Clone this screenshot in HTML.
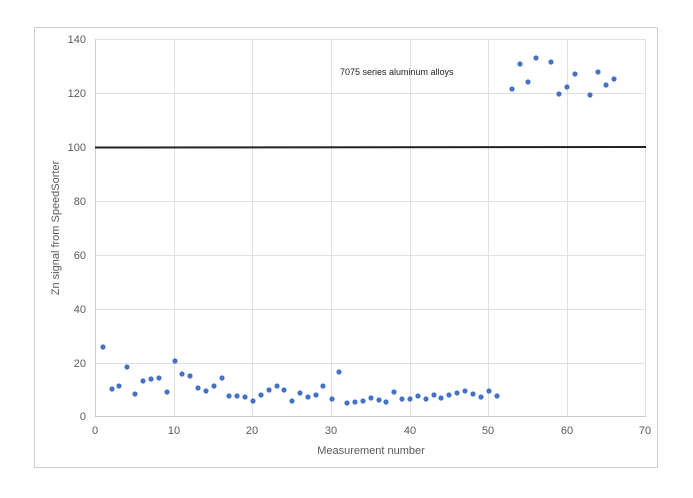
<!DOCTYPE html><html><head><style>body{margin:0;background:#fff}</style></head><body>
<svg width="693" height="493" xmlns="http://www.w3.org/2000/svg" font-family="Liberation Sans, sans-serif">
<rect x="34.5" y="27.5" width="623" height="440" fill="#fff" stroke="#d0d0d0"/>
<g stroke="#e0e0e0" stroke-width="1">
<line x1="95" y1="39.5" x2="646" y2="39.5"/><line x1="95" y1="93.5" x2="646" y2="93.5"/><line x1="95" y1="201.5" x2="646" y2="201.5"/><line x1="95" y1="255.5" x2="646" y2="255.5"/><line x1="95" y1="309.5" x2="646" y2="309.5"/><line x1="95" y1="363.5" x2="646" y2="363.5"/>
<line x1="174.5" y1="39" x2="174.5" y2="416"/><line x1="252.5" y1="39" x2="252.5" y2="416"/><line x1="331.5" y1="39" x2="331.5" y2="416"/><line x1="410.5" y1="39" x2="410.5" y2="416"/><line x1="488.5" y1="39" x2="488.5" y2="416"/><line x1="567.5" y1="39" x2="567.5" y2="416"/><line x1="645.5" y1="39" x2="645.5" y2="416"/>
</g>
<line x1="95.5" y1="39" x2="95.5" y2="417" stroke="#d0d0d0"/>
<line x1="95" y1="416.5" x2="646" y2="416.5" stroke="#c8c8c8"/>
<line x1="95" y1="147.5" x2="646" y2="147" stroke="#222" stroke-width="2"/>
<g font-size="11" fill="#595959" text-anchor="end">
<text x="86" y="43">140</text><text x="86" y="97">120</text><text x="86" y="151">100</text><text x="86" y="205">80</text><text x="86" y="259">60</text><text x="86" y="313">40</text><text x="86" y="367">20</text><text x="86" y="420">0</text>
</g>
<g font-size="11" fill="#595959" text-anchor="middle">
<text x="95" y="434">0</text><text x="174" y="434">10</text><text x="252" y="434">20</text><text x="331" y="434">30</text><text x="410" y="434">40</text><text x="488" y="434">50</text><text x="567" y="434">60</text><text x="645" y="434">70</text>
<text x="371" y="454">Measurement number</text>
<text transform="translate(59,228) rotate(-90)">Zn signal from SpeedSorter</text>
</g>
<text x="340" y="75" font-size="9" fill="#222">7075 series aluminum alloys</text>
<g fill="#4472c4">
<circle cx="103" cy="347" r="2.6"/><circle cx="112" cy="389" r="2.6"/><circle cx="119" cy="386" r="2.6"/><circle cx="127" cy="367" r="2.6"/><circle cx="135" cy="394" r="2.6"/><circle cx="143" cy="381" r="2.6"/><circle cx="151" cy="379" r="2.6"/><circle cx="159" cy="378" r="2.6"/><circle cx="167" cy="392" r="2.6"/><circle cx="175" cy="361" r="2.6"/><circle cx="182" cy="374" r="2.6"/><circle cx="190" cy="376" r="2.6"/><circle cx="198" cy="388" r="2.6"/><circle cx="206" cy="391" r="2.6"/><circle cx="214" cy="386" r="2.6"/><circle cx="222" cy="378" r="2.6"/><circle cx="229" cy="396" r="2.6"/><circle cx="237" cy="396" r="2.6"/><circle cx="245" cy="397" r="2.6"/><circle cx="253" cy="401" r="2.6"/><circle cx="261" cy="395" r="2.6"/><circle cx="269" cy="390" r="2.6"/><circle cx="277" cy="386" r="2.6"/><circle cx="284" cy="390" r="2.6"/><circle cx="292" cy="401" r="2.6"/><circle cx="300" cy="393" r="2.6"/><circle cx="308" cy="397" r="2.6"/><circle cx="316" cy="395" r="2.6"/><circle cx="323" cy="386" r="2.6"/><circle cx="332" cy="399" r="2.6"/><circle cx="339" cy="372" r="2.6"/><circle cx="347" cy="403" r="2.6"/><circle cx="355" cy="402" r="2.6"/><circle cx="363" cy="401" r="2.6"/><circle cx="371" cy="398" r="2.6"/><circle cx="379" cy="400" r="2.6"/><circle cx="386" cy="402" r="2.6"/><circle cx="394" cy="392" r="2.6"/><circle cx="402" cy="399" r="2.6"/><circle cx="410" cy="399" r="2.6"/><circle cx="418" cy="396" r="2.6"/><circle cx="426" cy="399" r="2.6"/><circle cx="434" cy="395" r="2.6"/><circle cx="441" cy="398" r="2.6"/><circle cx="449" cy="395" r="2.6"/><circle cx="457" cy="393" r="2.6"/><circle cx="465" cy="391" r="2.6"/><circle cx="473" cy="394" r="2.6"/><circle cx="481" cy="397" r="2.6"/><circle cx="489" cy="391" r="2.6"/><circle cx="497" cy="396" r="2.6"/>
<circle cx="512" cy="89" r="2.6"/><circle cx="520" cy="64" r="2.6"/><circle cx="528" cy="82" r="2.6"/><circle cx="536" cy="58" r="2.6"/><circle cx="551" cy="62" r="2.6"/><circle cx="559" cy="94" r="2.6"/><circle cx="567" cy="87" r="2.6"/><circle cx="575" cy="74" r="2.6"/><circle cx="590" cy="95" r="2.6"/><circle cx="598" cy="72" r="2.6"/><circle cx="606" cy="85" r="2.6"/><circle cx="614" cy="79" r="2.6"/>
</g>
</svg></body></html>
